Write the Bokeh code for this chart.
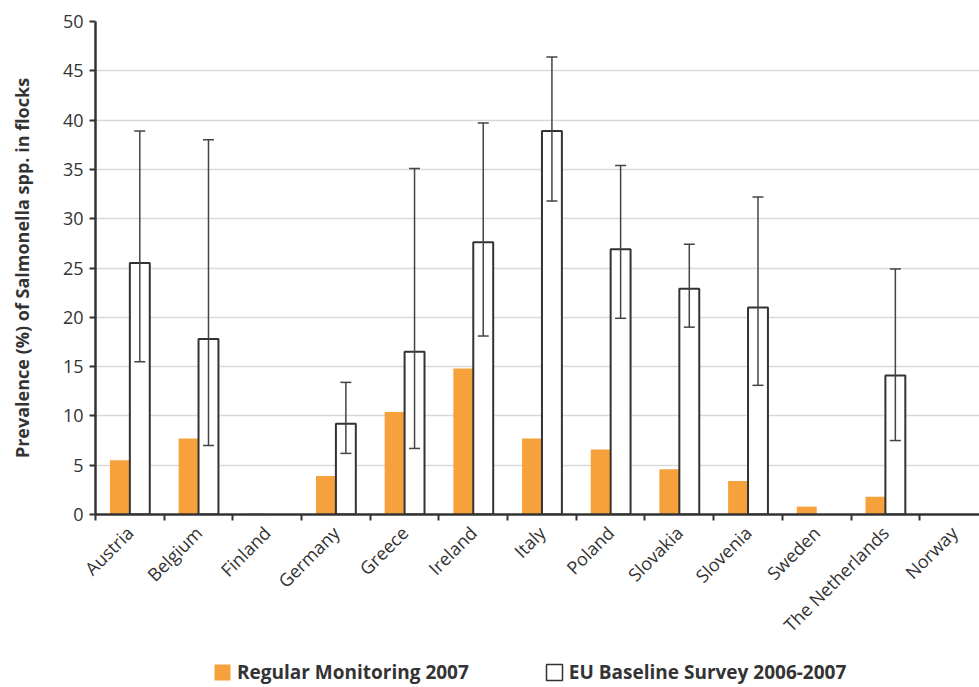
import math
from bokeh.plotting import figure
from bokeh.layouts import column
from bokeh.models import (ColumnDataSource, Range1d, FixedTicker, Whisker, TeeHead,
                          Legend, LegendItem)
from bokeh.transform import dodge
from bokeh.embed import file_html
from bokeh.resources import INLINE

countries = ["Austria", "Belgium", "Finland", "Germany", "Greece", "Ireland", "Italy",
             "Poland", "Slovakia", "Slovenia", "Sweden", "The Netherlands", "Norway"]
regular_2007 = [5.5, 7.7, 0.1, 3.9, 10.4, 14.8, 7.7, 6.6, 4.6, 3.4, 0.8, 1.8, 0.0]
baseline_2006_2007 = [25.5, 17.8, None, 9.2, 16.5, 27.6, 38.9, 26.9, 22.9, 21.0, None, 14.1, None]
ci_upper = [38.9, 38.0, None, 13.4, 35.1, 39.7, 46.4, 35.4, 27.4, 32.2, None, 24.9, None]
ci_lower = [15.5, 7.0, None, 6.2, 6.7, 18.1, 31.8, 19.9, 19.0, 13.1, None, 7.5, None]
y_ticks = [0, 5, 10, 15, 20, 25, 30, 35, 40, 45, 50]
legend_labels = ["Regular Monitoring 2007", "EU Baseline Survey 2006-2007"]

nan = float("nan")
def clean(v):
    return [nan if a is None else a for a in v]

centers = [i + 0.5 for i in range(len(countries))]
src = ColumnDataSource(dict(
    x=centers,
    reg=regular_2007,
    base=clean(baseline_2006_2007),
    up=clean(ci_upper),
    lo=clean(ci_lower),
))

FONT = "Open Sans"
ORANGE = "#F7A13D"
DARK = "#333333"

p = figure(width=979, height=650, output_backend="svg", toolbar_location=None,
           x_range=Range1d(0, 12.87), y_range=Range1d(0, 50),
           min_border_left=95, min_border_right=0, min_border_top=21,
           min_border_bottom=136)
p.outline_line_color = None
p.background_fill_color = "white"
p.border_fill_color = "white"

bw = 0.29
r_reg = p.vbar(x=dodge("x", -bw / 2), top="reg", width=bw, source=src,
               fill_color=ORANGE, line_color=None)
r_base = p.vbar(x=dodge("x", bw / 2), top="base", width=bw, source=src,
                fill_color="white", line_color=DARK, line_width=2)

wh = Whisker(base=dodge("x", bw / 2), upper="up", lower="lo", source=src,
             line_color="#444444", line_width=1.5, level="overlay",
             upper_head=TeeHead(size=11, line_color="#444444", line_width=1.5),
             lower_head=TeeHead(size=11, line_color="#444444", line_width=1.5))
p.add_layout(wh)

# x axis
p.xaxis.ticker = FixedTicker(ticks=centers, minor_ticks=list(range(0, 13)))
p.xaxis.major_label_overrides = {c: n for c, n in zip(centers, countries)}
p.xaxis.major_label_orientation = math.pi / 4
p.xaxis.major_tick_out = 0
p.xaxis.major_tick_in = 0
p.xaxis.minor_tick_out = 6
p.xaxis.minor_tick_in = 0
p.xaxis.minor_tick_line_color = DARK
p.xaxis.minor_tick_line_width = 2
p.xaxis.axis_line_color = DARK
p.xaxis.axis_line_width = 2.5
p.xaxis.major_label_text_font = FONT
p.xaxis.major_label_text_font_size = "18px"
p.xaxis.major_label_text_color = DARK
p.xaxis.major_label_standoff = 9
p.xgrid.grid_line_color = None

# y axis
p.yaxis.ticker = FixedTicker(ticks=y_ticks)
p.yaxis.axis_line_color = DARK
p.yaxis.axis_line_width = 2.5
p.yaxis.major_tick_out = 6
p.yaxis.major_tick_in = 0
p.yaxis.major_tick_line_color = DARK
p.yaxis.major_tick_line_width = 2
p.yaxis.minor_tick_line_color = None
p.yaxis.major_label_text_font = FONT
p.yaxis.major_label_text_font_size = "18px"
p.yaxis.major_label_text_color = DARK
p.yaxis.major_label_standoff = 6
p.yaxis.axis_label = "Prevalence (%) of Salmonella spp. in flocks"
p.yaxis.axis_label_text_font = FONT
p.yaxis.axis_label_text_font_size = "18px"
p.yaxis.axis_label_text_font_style = "bold"
p.yaxis.axis_label_text_color = DARK
p.yaxis.axis_label_standoff = 26
p.ygrid.ticker = FixedTicker(ticks=y_ticks[1:-1])
p.ygrid.grid_line_color = "#d9d9d9"
p.ygrid.grid_line_width = 1.5

# legend strip below the chart (frame aligned with the chart's frame)
lg = figure(width=979, height=37, output_backend="svg", toolbar_location=None,
            min_border=0, x_range=Range1d(100, 101), y_range=Range1d(100, 101))
lg.axis.visible = False
lg.grid.grid_line_color = None
lg.outline_line_color = None
l_reg = lg.vbar(x="x", top="reg", width=bw, source=src, visible=False,
                fill_color=ORANGE, line_color=None)
l_base = lg.vbar(x="x", top="base", width=bw, source=src, visible=False,
                 fill_color="white", line_color=DARK, line_width=1.5)
legend = Legend(items=[LegendItem(label=legend_labels[0], renderers=[l_reg]),
                       LegendItem(label=legend_labels[1], renderers=[l_base])],
                orientation="horizontal", location=(117, 2),
                glyph_width=20, glyph_height=20, label_height=20,
                label_standoff=5, spacing=75, padding=0, margin=0,
                border_line_color=None, background_fill_alpha=0,
                label_text_font=FONT, label_text_font_size="19px",
                label_text_font_style="bold", label_text_color=DARK)
lg.add_layout(legend, "center")

layout = column(p, lg, spacing=0)
open("out.html", "w").write(file_html(layout, INLINE))
